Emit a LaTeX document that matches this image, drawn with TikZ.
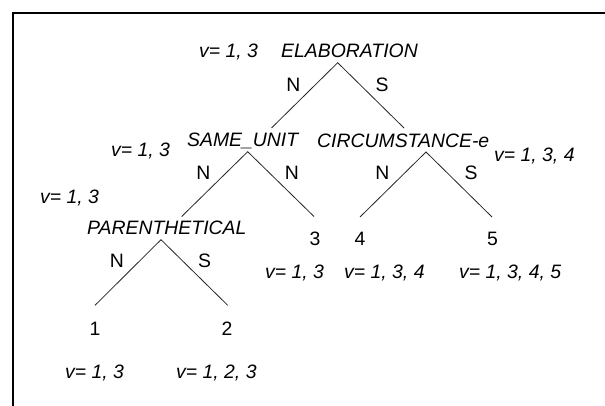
\documentclass[tikz,border=0pt]{standalone}
\usepackage{fontspec}
\setmainfont{Liberation Sans}
\begin{document}
\begin{tikzpicture}[x=1pt,y=-1pt,
  every node/.style={inner sep=0pt, font=\fontsize{19.4}{23}\selectfont},
  rel/.style={font=\fontsize{19.4}{23}\selectfont\itshape, anchor=base west},
  ns/.style={anchor=base},
  leaf/.style={anchor=base},
  edge/.style={line width=0.8pt, draw=black!85},
  frame/.style={line width=2pt, draw=black}]
\useasboundingbox (0,0) rectangle (605,406);
\draw[frame] (13,407) -- (13,13) -- (606,13);

% tree points
\coordinate (elabA) at (337.7,62.7);
\coordinate (elabL) at (271.5,128);
\coordinate (elabR) at (404,128);
\coordinate (sameA) at (247.7,151.7);
\coordinate (sameL) at (181.7,216.5);
\coordinate (sameR) at (314,216.5);
\coordinate (circA) at (426,152);
\coordinate (circL) at (360,217);
\coordinate (circR) at (492,217);
\coordinate (parA) at (161,239.7);
\coordinate (parL) at (95,305.3);
\coordinate (parR) at (227.7,305.3);

% relation labels
\node[rel] (vElab) at (199,58) {v= 1, 3};
\node[rel] (elab) at (281,58) {ELABORATION};
\node[rel] (vSame) at (111,156.7) {v= 1, 3};
\node[rel] (same) at (187,147) {SAME\_UNIT};
\node[rel] (circ) at (317,148) {CIRCUMSTANCE-e};
\node[rel] (vCirc) at (494,161.5) {v= 1, 3, 4};
\node[rel] (vPar) at (40,204) {v= 1, 3};
\node[rel] (par) at (87,235) {PARENTHETICAL};

% leaves
\node[leaf] (l1) at (95,335) {1};
\node[leaf] (l2) at (227,335) {2};
\node[leaf] (l3) at (315,245) {3};
\node[leaf] (l4) at (360,245) {4};
\node[leaf] (l5) at (492.5,245) {5};
\node[rel] (v3) at (265,278) {v= 1, 3};
\node[rel] (v4) at (344,278) {v= 1, 3, 4};
\node[rel] (v5) at (459,278) {v= 1, 3, 4, 5};
\node[rel] (v1) at (65,378) {v= 1, 3};
\node[rel] (v2) at (176,378) {v= 1, 2, 3};

% nuclearity labels
\node[ns] (nsElabL) at (293.5,92) {N};
\node[ns] (nsElabR) at (382,92) {S};
\node[ns] (nsSameL) at (203.5,180) {N};
\node[ns] (nsSameR) at (292,180) {N};
\node[ns] (nsCircL) at (382.5,180) {N};
\node[ns] (nsCircR) at (471,180) {S};
\node[ns] (nsParL) at (117,267) {N};
\node[ns] (nsParR) at (204.5,267) {S};

% edges
\draw[edge] (elabL) -- (elabA) -- (elabR);
\draw[edge] (sameL) -- (sameA) -- (sameR);
\draw[edge] (circL) -- (circA) -- (circR);
\draw[edge] (parL) -- (parA) -- (parR);
\end{tikzpicture}
\end{document}
